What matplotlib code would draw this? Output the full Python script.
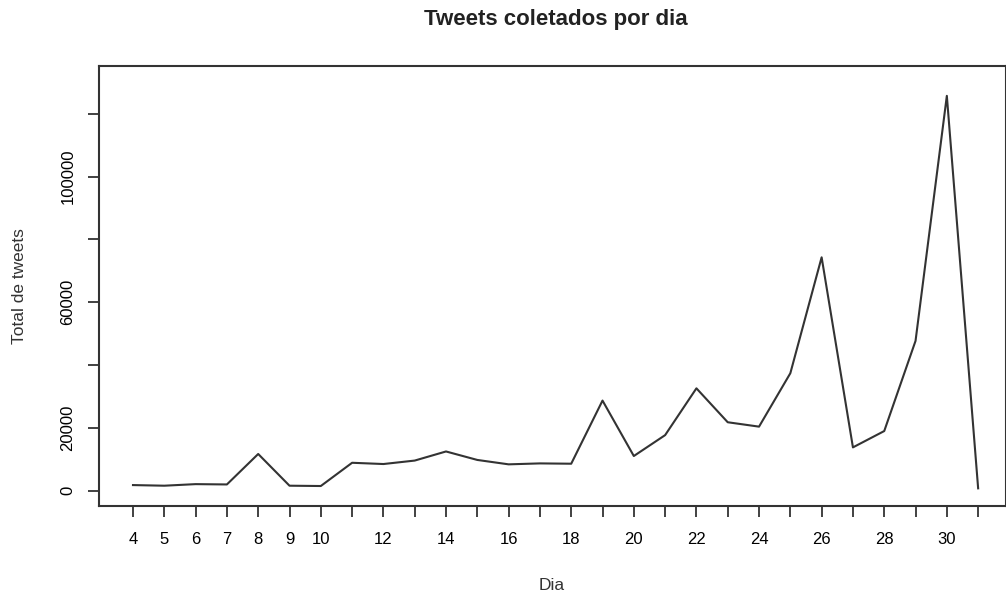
import matplotlib
matplotlib.use("Agg")
import matplotlib.pyplot as plt

plt.rcParams['font.family'] = ['Liberation Sans', 'DejaVu Sans']

# tweets collected per day
dias = list(range(4, 32))
tweets = [1800, 1600, 2100, 2000, 11700, 1600, 1500, 8900, 8500, 9600,
          12500, 9800, 8400, 8700, 8600, 28700, 11050, 17700, 32600, 21800,
          20400, 37400, 74300, 13800, 19000, 47700, 125700, 760]

y_ticks = [0, 20000, 40000, 60000, 80000, 100000, 120000]
y_labels = ['0', '20000', '', '60000', '', '100000', '']
x_labels = [str(d) if (d <= 10 or (d % 2 == 0 and d < 31)) else '' for d in dias]

fig = plt.figure(figsize=(10.06, 5.96), dpi=100)
ax = fig.add_axes([99/1006, 1 - 506/596, (1006 - 99)/1006, (506 - 66)/596])

ax.plot(dias, tweets, color='#333333', linewidth=1.5)

ax.set_xlim(2.914, 31.89)
ax.set_ylim(-4860, 135200)

ax.set_xticks(dias)
ax.set_xticklabels(x_labels, fontsize=12)
ax.set_yticks(y_ticks)
ax.set_yticklabels(y_labels, fontsize=12, rotation=90, va='center')
ax.tick_params(direction='out', length=8, width=1.3, color='#333333')
ax.tick_params(axis='x', pad=11)
ax.tick_params(axis='y', pad=9)

for s in ax.spines.values():
    s.set_linewidth(1.5)
    s.set_color('#333333')

fig.text(556/1006, 1 - 20/596, 'Tweets coletados por dia', ha='center', va='center',
         fontsize=16, fontweight='bold', color='#222222')
fig.text(552/1006, 1 - 586/596, 'Dia', ha='center', va='center', fontsize=12.5,
         color='#333333')
fig.text(20/1006, 1 - 286/596, 'Total de tweets', ha='center', va='center',
         rotation=90, fontsize=12.5, color='#333333')

fig.savefig('out.png', dpi=100)
